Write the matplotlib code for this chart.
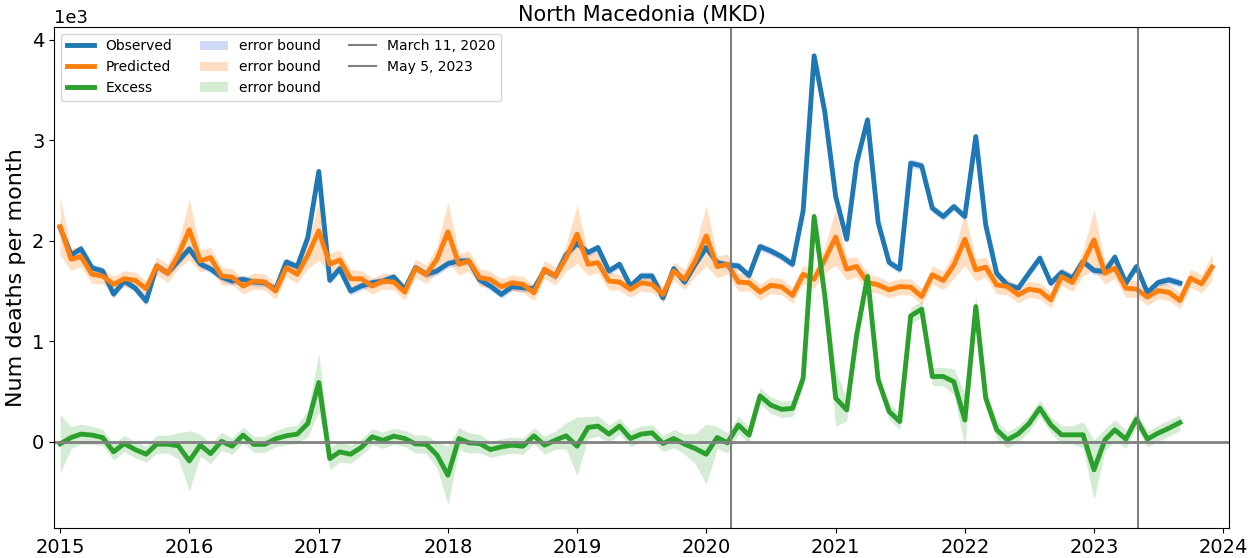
import numpy as np
import pandas as pd
import matplotlib
matplotlib.use('Agg')
import matplotlib.pyplot as plt
import matplotlib.dates as mdates

# Monthly series, Jan 2015 onwards
observed = [
    2130, 1860, 1920, 1730, 1700, 1470, 1600, 1530, 1400, 1750, 1680, 1800,  # 2015
    1920, 1770, 1720, 1640, 1600, 1617, 1590, 1583, 1517, 1790, 1743, 2033,  # 2016
    2690, 1607, 1723, 1500, 1550, 1583, 1600, 1640, 1517, 1733, 1667, 1700,  # 2017
    1773, 1800, 1800, 1610, 1550, 1467, 1543, 1533, 1523, 1710, 1650, 1860,  # 2018
    1977, 1883, 1933, 1700, 1767, 1550, 1650, 1650, 1433, 1723, 1590, 1767,  # 2019
    1933, 1783, 1760, 1750, 1655, 1943, 1900, 1843, 1767, 2300, 3841, 3287,  # 2020
    2441, 2016, 2773, 3204, 2182, 1784, 1718, 2773, 2746, 2325, 2242, 2341,  # 2021
    2242, 3038, 2159, 1676, 1562, 1529, 1678, 1828, 1579, 1685, 1629, 1794,  # 2022
    1705, 1695, 1838, 1579, 1744, 1486, 1585, 1612, 1579,                    # 2023
]
predicted = [
    2143, 1817, 1843, 1667, 1650, 1567, 1623, 1607, 1523, 1750, 1677, 1857,
    2110, 1800, 1833, 1650, 1640, 1550, 1600, 1590, 1500, 1733, 1667, 1857,
    2100, 1767, 1810, 1623, 1623, 1550, 1600, 1590, 1490, 1727, 1667, 1817,
    2090, 1767, 1800, 1633, 1617, 1543, 1583, 1567, 1483, 1717, 1650, 1830,
    2067, 1767, 1783, 1600, 1590, 1517, 1583, 1567, 1467, 1700, 1617, 1800,
    2050, 1743, 1767, 1590, 1583, 1490, 1557, 1543, 1457, 1667, 1619, 1811,
    2037, 1718, 1745, 1586, 1562, 1512, 1545, 1539, 1446, 1662, 1605, 1761,
    2016, 1711, 1738, 1562, 1545, 1463, 1519, 1502, 1413, 1645, 1585, 1778,
    2010, 1678, 1728, 1529, 1519, 1440, 1505, 1486, 1406, 1629, 1572, 1738,
]
excess = [
    -20, 43, 77, 67, 43, -100, -17, -77, -123, -23, -23, -40,
    -190, -33, -117, 5, -43, 67, -25, -25, 30, 60, 77, 183,
    590, -167, -100, -123, -55, 50, 15, 57, 33, -20, -25, -130,
    -333, 33, -10, -17, -77, -50, -33, -43, 60, -33, 17, 60,
    -43, 143, 157, 77, 157, 33, 77, 90, -17, 33, -23, -67,
    -123, 43, -10, 167, 67, 457, 367, 323, 333, 633, 2242, 1460,
    435, 318, 1060, 1645, 617, 302, 202, 1254, 1320, 650, 650, 598,
    217, 1346, 435, 120, 20, 80, 180, 335, 169, 70, 70, 70,
    -279, 20, 119, 27, 226, 27, 86, 136, 192,
]
# half-width of the predicted error bound (also used for excess)
pred_err = [
    290, 110, 100, 90, 80, 80, 80, 80, 80, 90, 90, 130,
    300, 110, 100, 90, 80, 80, 80, 80, 80, 90, 90, 130,
    290, 110, 100, 90, 80, 80, 80, 80, 80, 90, 90, 130,
    290, 110, 100, 90, 80, 80, 80, 80, 80, 90, 90, 130,
    290, 110, 100, 90, 80, 80, 80, 80, 80, 90, 100, 150,
    300, 110, 100, 90, 80, 80, 80, 80, 80, 90, 90, 130,
    280, 110, 100, 90, 80, 80, 80, 80, 80, 90, 90, 130,
    260, 110, 100, 90, 80, 80, 80, 80, 80, 90, 90, 130,
    300, 110, 100, 90, 80, 80, 80, 80, 80, 90, 90, 130,
]
obs_err = 40

dates_pred = pd.date_range('2015-01-01', periods=len(predicted), freq='MS')
dates_obs = dates_pred[:len(observed)]

observed = np.array(observed, dtype=float)
predicted = np.array(predicted, dtype=float)
excess = np.array(excess, dtype=float)
pred_err = np.array(pred_err, dtype=float)

fig = plt.figure(figsize=(12.59, 5.58), dpi=100)
ax = fig.add_axes([0.043, 0.054, 0.933, 0.898])

ax.plot(dates_obs, observed, color='tab:blue', lw=3.5, label='Observed')
ax.plot(dates_pred, predicted, color='tab:orange', lw=3.5, label='Predicted')
ax.plot(dates_obs, excess, color='tab:green', lw=3.5, label='Excess')

ax.fill_between(dates_obs, observed - obs_err, observed + obs_err,
                color='royalblue', alpha=0.25, lw=0, label='error bound')
ax.fill_between(dates_pred, predicted - pred_err, predicted + pred_err,
                color='tab:orange', alpha=0.25, lw=0, label='error bound')
ax.fill_between(dates_obs, excess - pred_err[:len(excess)], excess + pred_err[:len(excess)],
                color='tab:green', alpha=0.2, lw=0, label='error bound')

ax.axvline(pd.Timestamp('2020-03-11'), color='gray', lw=1.5, label='March 11, 2020')
ax.axvline(pd.Timestamp('2023-05-05'), color='gray', lw=1.5, label='May 5, 2023')
ax.axhline(0, color='gray', lw=2)

ax.set_xlim(pd.Timestamp('2014-12-15'), pd.Timestamp('2024-01-17'))
ax.set_ylim(-856, 4130)
ax.xaxis.set_major_locator(mdates.YearLocator())
ax.xaxis.set_major_formatter(mdates.DateFormatter('%Y'))
ax.ticklabel_format(axis='y', style='sci', scilimits=(3, 3))
ax.yaxis.get_offset_text().set_fontsize(13)
ax.tick_params(labelsize=14)

ax.set_title('North Macedonia (MKD)', fontsize=15, pad=4)
ax.set_ylabel('Num deaths per month', fontsize=16)
ax.legend(ncol=3, loc='upper left', fontsize=10, framealpha=0.8)

fig.savefig('out.png', dpi=100)
